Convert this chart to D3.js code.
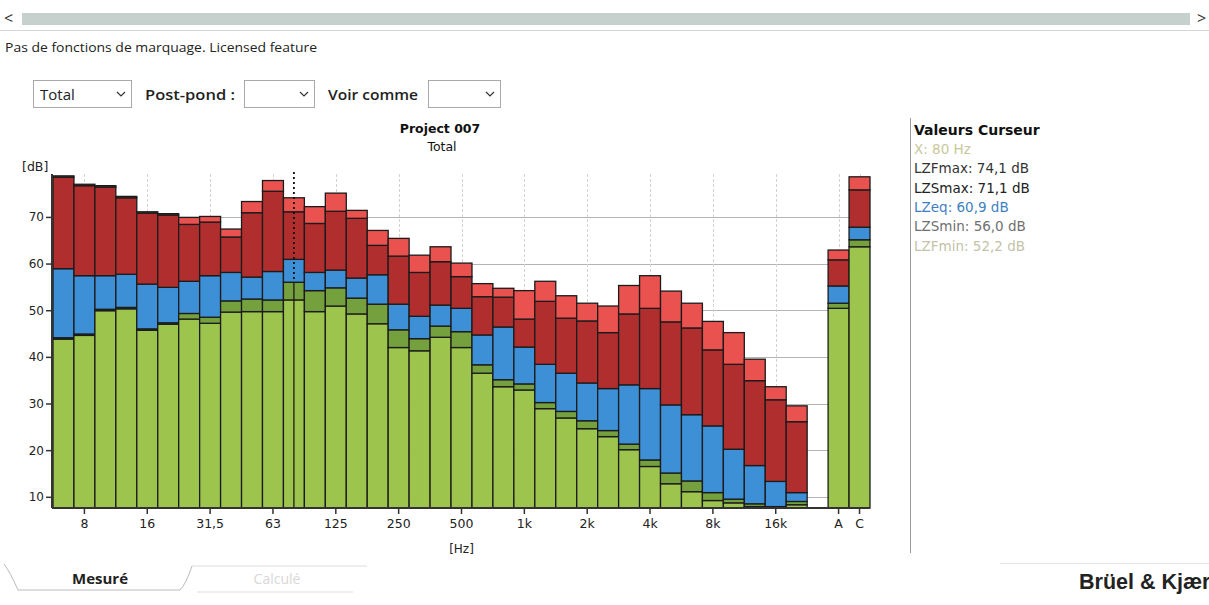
<!DOCTYPE html>
<html><head><meta charset="utf-8">
<script src="https://cdn.jsdelivr.net/npm/d3@7"></script>
<style>
html,body{margin:0;padding:0;background:#fff;}
svg{display:block;}
</style></head>
<body>
<svg id="chart" width="1209" height="605"></svg>
<script>
// ---- data ----
const categories = ["6,3","8","10","12,5","16","20","25","31,5","40","50","63","80","100","125","160","200","250","315","400","500","630","800","1k","1,25k","1,6k","2k","2,5k","3,15k","4k","5k","6,3k","8k","10k","12,5k","16k","20k"];
const aggregates = ["A","C"];
const tickLabels = ["8","16","31,5","63","125","250","500","1k","2k","4k","8k","16k","A","C"];
const yTicks = [10,20,30,40,50,60,70];
const LZFmax = [78.8,77.0,76.7,74.4,71.1,70.7,69.9,70.1,67.4,73.3,77.8,74.1,72.2,75.1,71.4,67.1,65.4,61.8,63.6,60.1,55.7,54.7,54.2,56.2,53.1,51.5,50.9,55.3,57.4,54.1,51.5,47.6,45.2,39.5,33.6,29.5, 62.9,78.6];
const LZSmax = [78.5,76.7,76.4,74.1,70.8,70.4,68.4,68.9,65.7,70.9,75.5,71.1,68.6,71.2,69.7,63.9,61.6,58.1,60.4,57.2,52.9,52.8,48.1,51.9,48.3,47.7,45.2,49.2,50.4,47.5,46.2,41.5,38.4,34.9,30.8,26.1, 60.8,75.8];
const LZeq   = [58.9,57.4,57.4,57.7,55.6,54.9,56.2,57.4,58.1,57.1,58.3,60.9,58.1,58.6,56.9,57.6,51.3,48.7,51.1,50.4,44.7,46.4,42.1,38.4,36.5,34.4,33.2,34.0,33.2,29.7,27.6,25.2,20.2,16.7,13.3,10.9, 55.2,67.8];
const LZSmin = [44.1,44.9,50.2,50.6,46.0,47.3,49.3,48.5,52.0,52.4,52.2,56.0,54.2,54.8,52.6,51.3,45.8,43.9,46.6,45.4,38.3,35.1,34.2,30.2,28.3,26.3,24.2,21.3,17.9,15.1,13.4,10.9,9.5,8.5,7.9,9.0, 51.5,65.1];
const LZFmin = [43.8,44.6,49.9,50.3,45.7,47.0,48.1,47.2,49.6,49.7,49.7,52.2,49.7,50.9,49.2,47.1,42.0,41.3,44.2,42.0,36.5,33.6,32.9,28.9,26.9,24.6,22.9,20.1,16.5,12.8,11.1,9.2,8.7,7.9,7.7,8.3, 50.4,63.6];
const cursorBand = "80";
const cursorLines = ["X: 80 Hz","LZFmax: 74,1 dB","LZSmax: 71,1 dB","LZeq: 60,9 dB","LZSmin: 56,0 dB","LZFmin: 52,2 dB"];

// ---- setup ----
const svg = d3.select("#chart");
const labels = categories.concat(aggregates);
const x = d3.scaleBand().domain(categories.concat(["__gap"], aggregates)).range([53, 870]).padding(0);
const y = d3.scaleLinear().domain([7.6, 79.2]).range([508, 174]);
const FONT = "'DejaVu Sans', Verdana, sans-serif";
const UI = "'Open Sans', 'Noto Sans', sans-serif";

// ---- top UI ----
svg.append("text").attr("x",4).attr("y",24).attr("font-family",UI).attr("font-size",16).attr("fill","#333").text("<");
svg.append("text").attr("x",1197).attr("y",24).attr("font-family",UI).attr("font-size",16).attr("fill","#333").text(">");
svg.append("rect").attr("x",22).attr("y",13).attr("width",1168).attr("height",12).attr("fill","#c6d0cd");
svg.append("line").attr("x1",0).attr("x2",1209).attr("y1",30.5).attr("y2",30.5).attr("stroke","#d6d6d6");
svg.append("text").attr("x",5).attr("y",52).attr("font-family",UI).attr("font-size",12.5)
  .attr("textLength",312).attr("lengthAdjust","spacingAndGlyphs").attr("fill","#222").text("Pas de fonctions de marquage. Licensed feature");

function dropdown(x0, w, label){
  svg.append("rect").attr("x",x0+0.5).attr("y",80.5).attr("width",w).attr("height",27).attr("fill","#fff").attr("stroke","#a9a9a9");
  if(label) svg.append("text").attr("x",x0+7).attr("y",100).attr("font-family",UI).attr("font-size",15).attr("fill","#222").text(label);
  const cx = x0 + w - 10;
  svg.append("path").attr("d",`M${cx-4},92 L${cx},96 L${cx+4},92`).attr("fill","none").attr("stroke","#333").attr("stroke-width",1.2);
}
dropdown(33, 98, "Total");
svg.append("text").attr("x",145).attr("y",100).attr("font-family",UI).attr("font-size",15).attr("font-weight",600)
  .attr("textLength",90).attr("lengthAdjust","spacingAndGlyphs").attr("fill","#222").text("Post-pond :");
dropdown(244, 70, "");
svg.append("text").attr("x",328).attr("y",100).attr("font-family",UI).attr("font-size",15).attr("font-weight",600)
  .attr("textLength",90).attr("lengthAdjust","spacingAndGlyphs").attr("fill","#222").text("Voir comme");
dropdown(428, 72, "");

// ---- title ----
svg.append("text").attr("x",440).attr("y",133).attr("text-anchor","middle").attr("font-family",FONT).attr("font-size",12.5).attr("font-weight","bold").attr("fill","#111").text("Project 007");
svg.append("text").attr("x",442).attr("y",151).attr("text-anchor","middle").attr("font-family",FONT).attr("font-size",12.5).attr("fill","#111").text("Total");

// ---- grid ----
const g = svg.append("g");
g.selectAll("line.hg").data(yTicks).join("line").attr("class","hg")
  .attr("x1",53).attr("x2",870).attr("y1",d=>Math.round(y(d))+0.5).attr("y2",d=>Math.round(y(d))+0.5)
  .attr("stroke","#b5b5b5").attr("stroke-width",1);
g.selectAll("line.vg").data(tickLabels).join("line").attr("class","vg")
  .attr("x1",d=>Math.round(x(d)+x.bandwidth()/2)+0.5).attr("x2",d=>Math.round(x(d)+x.bandwidth()/2)+0.5)
  .attr("y1",y.range()[1]).attr("y2",508)
  .attr("stroke","#d2d2d2").attr("stroke-dasharray","3,2");

// ---- bars ----
const colors = {fmin:"#9dc44d", smin:"#74a03e", eq:"#3d8fd6", smax:"#b12e2e", fmax:"#e9524e"};
const segs = [];
labels.forEach((lab,i)=>{
  const base = y.domain()[0];
  segs.push({lab, lo:base, hi:LZFmin[i], c:colors.fmin});
  segs.push({lab, lo:LZFmin[i], hi:LZSmin[i], c:colors.smin});
  segs.push({lab, lo:LZSmin[i], hi:LZeq[i], c:colors.eq});
  segs.push({lab, lo:LZeq[i], hi:LZSmax[i], c:colors.smax});
  segs.push({lab, lo:LZSmax[i], hi:LZFmax[i], c:colors.fmax});
});
svg.append("g").selectAll("rect").data(segs).join("rect")
  .attr("x",d=>x(d.lab)).attr("width",x.bandwidth())
  .attr("y",d=>y(d.hi)).attr("height",d=>Math.max(0,y(d.lo)-y(d.hi)))
  .attr("fill",d=>d.c).attr("stroke","#1b1b1b").attr("stroke-width",1.3);

// cursor
const cx = x(cursorBand)+x.bandwidth()/2;
const ci = labels.indexOf(cursorBand);
svg.append("line").attr("x1",cx).attr("x2",cx).attr("y1",y.range()[1]-2).attr("y2",y(LZSmin[ci]))
  .attr("stroke","#111").attr("stroke-width",1.8).attr("stroke-dasharray","2,3");
svg.append("line").attr("x1",cx).attr("x2",cx).attr("y1",y(LZSmin[ci])).attr("y2",508)
  .attr("stroke","#1b1b1b").attr("stroke-width",1.3);

// ---- axes ----
const yAxis = svg.append("g").attr("transform","translate(52,0)")
  .call(d3.axisLeft(y).tickValues(yTicks).tickSize(6).tickPadding(2).tickFormat(d3.format("d")));
yAxis.select(".domain").attr("d",`M0,${y.range()[1]}V508`).attr("stroke","#333").attr("stroke-width",2);
yAxis.selectAll(".tick line").attr("stroke","#333").attr("stroke-width",1.5);
yAxis.selectAll("text").attr("font-family",FONT).attr("font-size",12).attr("fill","#222");

const xAxis = svg.append("g").attr("transform","translate(0,508)")
  .call(d3.axisBottom(x).tickValues(tickLabels).tickSize(6).tickPadding(5));
xAxis.select(".domain").attr("d","M52,0H870").attr("stroke","#333").attr("stroke-width",2);
xAxis.selectAll(".tick line").attr("stroke","#333").attr("stroke-width",1.5);
xAxis.selectAll("text").attr("font-family",FONT).attr("font-size",12.5).attr("fill","#222");

svg.append("text").attr("x",22).attr("y",171).attr("font-family",FONT).attr("font-size",12.5).attr("fill","#222").text("[dB]");
svg.append("text").attr("x",x("500")+x.bandwidth()/2).attr("y",553).attr("text-anchor","middle").attr("font-family",FONT).attr("font-size",12).attr("fill","#222").text("[Hz]");

// ---- cursor panel ----
svg.append("line").attr("x1",910.5).attr("x2",910.5).attr("y1",118).attr("y2",553).attr("stroke","#9a9a9a");
svg.append("text").attr("x",914).attr("y",135).attr("font-family",FONT).attr("font-size",14).attr("font-weight","bold").attr("fill","#111").text("Valeurs Curseur");
const cColors = ["#c9c79a","#333","#222","#3f7fbf","#707070","#c3c3a8"];
svg.append("g").selectAll("text").data(cursorLines).join("text")
  .attr("x",914).attr("y",(d,i)=>154+i*19.3)
  .attr("font-family",FONT).attr("font-size",13.5).attr("fill",(d,i)=>cColors[i]).text(d=>d);

// ---- bottom tabs ----
svg.append("path").attr("d","M192,566 L367,566").attr("stroke","#ddd").attr("fill","none");
svg.append("path").attr("d","M197,592 L353,592").attr("stroke","#ddd").attr("fill","none");
svg.append("path").attr("d","M4,564 Q10,572 18,590 L180,590 Q186,584 192,566").attr("stroke","#bbb").attr("fill","none");
svg.append("text").attr("x",100).attr("y",584).attr("text-anchor","middle").attr("font-family",UI).attr("font-size",15).attr("font-weight","bold").attr("fill","#222").text("Mesuré");
svg.append("text").attr("x",277).attr("y",584).attr("text-anchor","middle").attr("font-family",UI).attr("font-size",14).attr("fill","#d8d8d8").text("Calculé");
svg.append("line").attr("x1",1000).attr("x2",1209).attr("y1",563.5).attr("y2",563.5).attr("stroke","#e2e2e2");
svg.append("text").attr("x",1079).attr("y",589).attr("font-family","'Liberation Sans', Arial, sans-serif").attr("font-size",21.5).attr("font-weight","bold").attr("fill","#222").text("Brüel & Kjær");
</script>
</body></html>
